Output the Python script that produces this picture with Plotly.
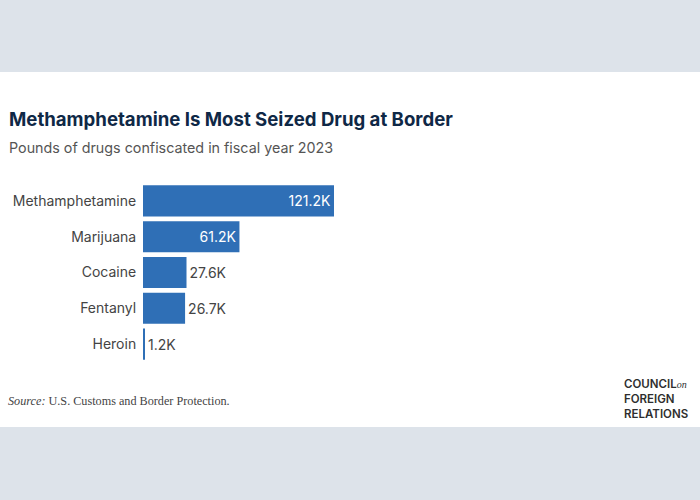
import plotly.graph_objects as go

drugs = ["Methamphetamine", "Marijuana", "Cocaine", "Fentanyl", "Heroin"]
pounds_k = [121.2, 61.2, 27.6, 26.7, 1.2]
label_pos = ["inside", "inside", "outside", "outside", "outside"]

W, H = 700, 500
L, R, T, B = 143, 0, 183, 138
pw, ph = W - L - R, H - T - B

def px(x):
    return (x - L) / pw

def py(y):
    return (H - B - y) / ph

fig = go.Figure(go.Bar(
    x=pounds_k, y=drugs, orientation="h",
    marker=dict(color="#2f6fb6", line=dict(width=0)),
    texttemplate="%{x:.1f}K",
    textposition=label_pos,
    insidetextanchor="end",
    insidetextfont=dict(color="white", size=14, family="Inter"),
    outsidetextfont=dict(color="#444444", size=14, family="Inter"),
    cliponaxis=False,
))

fig.update_layout(
    width=W, height=H,
    margin=dict(l=L, r=R, t=T, b=B),
    paper_bgcolor="#dde3ea",
    plot_bgcolor="white",
    bargap=0.13,
    showlegend=False,
    xaxis=dict(range=[0, pw / (191 / 121.2)], visible=False, fixedrange=True),
    yaxis=dict(autorange="reversed", showgrid=False, zeroline=False, showline=False,
               ticks="outside", ticklen=3, tickcolor="rgba(0,0,0,0)",
               tickfont=dict(size=14, color="#444444", family="Inter")),
    font=dict(family="Inter"),
    shapes=[dict(type="rect", xref="paper", yref="paper", x0=-1, x1=2,
                 y0=py(427), y1=py(72), fillcolor="white", line=dict(width=0),
                 layer="below")],
    annotations=[
        dict(text="<b>Methamphetamine Is Most Seized Drug at Border</b>",
             xref="paper", yref="paper", x=px(7), y=py(119), xanchor="left", yanchor="middle",
             showarrow=False, font=dict(size=18.6, color="#0f2846", family="Inter")),
        dict(text="Pounds of drugs confiscated in fiscal year 2023",
             xref="paper", yref="paper", x=px(7), y=py(148), xanchor="left", yanchor="middle",
             showarrow=False, font=dict(size=14.3, color="#555555", family="Inter")),
        dict(text="<i>Source:</i> U.S. Customs and Border Protection.",
             xref="paper", yref="paper", x=px(6), y=py(401), xanchor="left", yanchor="middle",
             showarrow=False, font=dict(size=12.2, color="#444444", family="Liberation Serif")),
        dict(text="COUNCIL<i><span style='font-size:10px;font-family:Liberation Serif;font-weight:400'>on</span></i><br>FOREIGN<br>RELATIONS",
             xref="paper", yref="paper", x=px(622), y=py(399), xanchor="left", yanchor="middle",
             align="left", showarrow=False,
             font=dict(size=11.5, color="#2e2e2e", family="Inter", weight=600)),
    ],
)

fig.write_html("out.html", config={"displayModeBar": False},
               post_script="document.body.style.margin='0px';")
